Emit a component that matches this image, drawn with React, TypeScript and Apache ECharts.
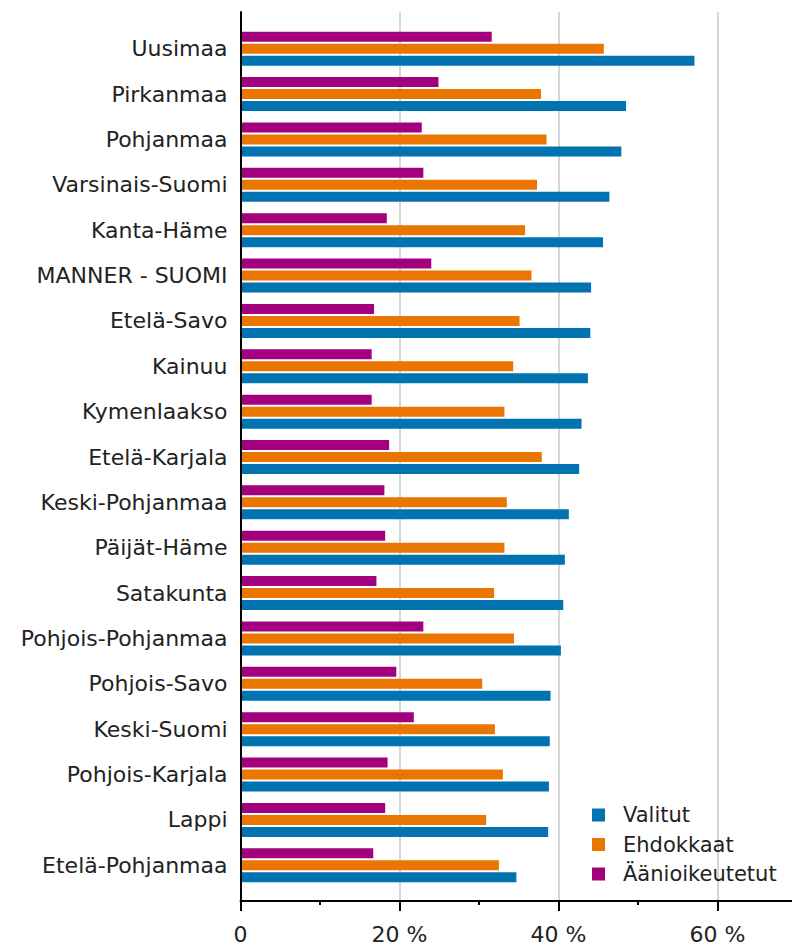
import React, { useEffect, useRef } from 'react';
import * as echarts from 'echarts';

const regions = [
  'Uusimaa', 'Pirkanmaa', 'Pohjanmaa', 'Varsinais-Suomi', 'Kanta-Häme', 'MANNER - SUOMI',
  'Etelä-Savo', 'Kainuu', 'Kymenlaakso', 'Etelä-Karjala', 'Keski-Pohjanmaa', 'Päijät-Häme',
  'Satakunta', 'Pohjois-Pohjanmaa', 'Pohjois-Savo', 'Keski-Suomi', 'Pohjois-Karjala', 'Lappi',
  'Etelä-Pohjanmaa',
];
const valitut = [57.1, 48.5, 47.9, 46.4, 45.6, 44.1, 44.0, 43.7, 42.9, 42.6, 41.3, 40.8, 40.6, 40.3, 39.0, 38.9, 38.8, 38.7, 34.7];
const ehdokkaat = [45.7, 37.8, 38.5, 37.3, 35.8, 36.6, 35.1, 34.3, 33.2, 37.9, 33.5, 33.2, 31.9, 34.4, 30.4, 32.0, 33.0, 30.9, 32.5];
const aanioikeutetut = [31.6, 24.9, 22.8, 23.0, 18.4, 24.0, 16.8, 16.5, 16.5, 18.7, 18.1, 18.2, 17.1, 23.0, 19.6, 21.8, 18.5, 18.2, 16.7];
const seriesNames = ['Valitut', 'Ehdokkaat', 'Äänioikeutetut'];
const seriesColors = ['#0073b0', '#ea7500', '#a2007d'];
const xMin = 0;
const xMax = 70;
const labelStep = 20;
const minorStep = 10;

const FONT = '"DejaVu Sans", Verdana, sans-serif';
const TEXT = '#222222';

export default function App() {
  const ref = useRef<HTMLDivElement>(null);
  useEffect(() => {
    if (!ref.current) return;
    const chart = echarts.init(ref.current, undefined, { renderer: 'svg' });
    const seriesData = [valitut, ehdokkaat, aanioikeutetut];
    // draw order: purple on top, orange middle, blue bottom in each group
    const order = [2, 1, 0];
    chart.setOption({
      animation: false,
      backgroundColor: '#ffffff',
      textStyle: { fontFamily: FONT },
      grid: [
        { left: 240.5, width: 556.5, top: 12, height: 889, outerBoundsMode: 'none', containLabel: false },
        { left: 240.5, width: 556.5, top: 26, height: 862, outerBoundsMode: 'none', containLabel: false },
      ],
      xAxis: [
        {
          gridIndex: 0, type: 'value', position: 'bottom', offset: 0,
          min: xMin, max: xMax, interval: labelStep,
          axisLine: { show: true, lineStyle: { color: '#000', width: 2 } },
          axisTick: { show: true, length: 10, lineStyle: { color: '#000', width: 2 } },
          axisLabel: {
            margin: 22, fontSize: 22, color: TEXT, fontFamily: FONT,
            formatter: (v: number) => (v === 0 ? '0' : v % labelStep === 0 ? `${v} %` : ''),
          },
          splitLine: { show: true, lineStyle: { color: '#d6d6d6', width: 2 } },
        },
        {
          gridIndex: 0, type: 'value', position: 'bottom', offset: 0,
          min: xMin, max: xMax, interval: minorStep,
          axisLine: { show: false },
          axisTick: { show: true, length: 4, lineStyle: { color: '#000', width: 2 } },
          axisLabel: { show: false },
          splitLine: { show: false },
        },
        { gridIndex: 1, type: 'value', min: xMin, max: xMax, show: false, splitLine: { show: false } },
      ],
      yAxis: [
        {
          gridIndex: 0, type: 'value', min: 0, max: 1,
          axisLine: { show: true, lineStyle: { color: '#000', width: 2 } },
          axisTick: { show: false }, axisLabel: { show: false }, splitLine: { show: false },
          z: 10,
        },
        {
          gridIndex: 1, type: 'category', data: regions, inverse: true,
          axisLine: { show: false }, axisTick: { show: false },
          axisLabel: { margin: 13, fontSize: 22, color: TEXT, fontFamily: FONT },
          splitLine: { show: false },
        },
      ],
      legend: {
        orient: 'vertical', left: 592, top: 804.5, padding: 0,
        itemWidth: 13, itemHeight: 13, itemGap: 8.5, icon: 'rect',
        data: seriesNames,
        textStyle: { fontSize: 21, color: TEXT, fontFamily: FONT, lineHeight: 21, padding: [0, 0, 0, 13] },
      },
      series: order.map((i) => ({
        name: seriesNames[i], type: 'bar', xAxisIndex: 2, yAxisIndex: 1,
        data: seriesData[i], barWidth: 10, barGap: '20%',
        itemStyle: { color: seriesColors[i] },
      })),
    });
    return () => chart.dispose();
  }, []);
  return <div ref={ref} style={{ position: 'fixed', left: 0, top: 0, width: 792, height: 947 }} />;
}
